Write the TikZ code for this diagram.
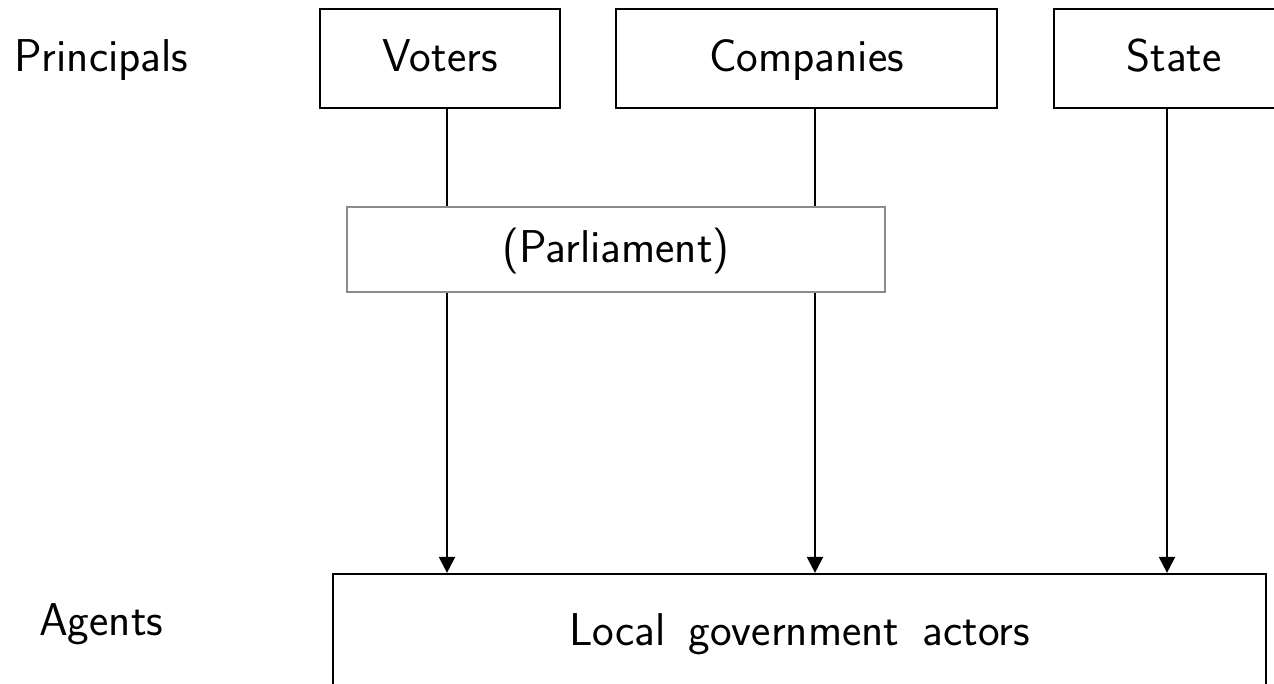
\documentclass[tikz,border=0pt]{standalone}
\usepackage{fontspec}
\usetikzlibrary{arrows.meta}
\definecolor{parlgray}{RGB}{140,140,140}
\begin{document}
\begin{tikzpicture}[x=1pt,y=-1pt,
  font=\sffamily\fontsize{46}{54}\selectfont,
  box/.style={draw=black, line width=2.2pt, inner sep=0pt, text height=27pt, text depth=0pt},
  pbox/.style={draw=parlgray, line width=1.6pt, inner sep=0pt, text height=27pt, text depth=0pt},
  label/.style={anchor=base west, inner sep=0pt},
  conn/.style={line width=2.2pt, draw=black},
  arr/.style={conn, -{Triangle[length=16pt,width=16pt]}}]
\useasboundingbox (0,0) rectangle (1274,684);
\clip (0,0) rectangle (1274,684);
\node[label] (principals) at (14,72) {Principals};
\node[label] (agents) at (39,635) {Agents};
\node[box, minimum width=240pt, minimum height=99pt] (voters) at (440,58.5) {Voters};
\node[box, minimum width=381pt, minimum height=99pt] (companies) at (806.5,58.5) {Companies};
\node[box, minimum width=240pt, minimum height=99pt] (state) at (1174,58.5) {State};
\node[pbox, minimum width=538pt, minimum height=85pt] (parl) at (616,249.5) {(Parliament)};
\node[box, minimum width=933pt, minimum height=116pt] (local) at (799.5,632) {Local\hspace{0.5em}government\hspace{0.5em}actors};
\coordinate (vx) at (447,0);
\coordinate (cx) at (815,0);
\coordinate (sx) at (1167,0);
\draw[conn] (voters.south -| vx) -- (parl.north -| vx);
\draw[conn] (companies.south -| cx) -- (parl.north -| cx);
\draw[arr] (parl.south -| vx) -- (local.north -| vx);
\draw[arr] (parl.south -| cx) -- (local.north -| cx);
\draw[arr] (state.south -| sx) -- (local.north -| sx);
\end{tikzpicture}
\end{document}
